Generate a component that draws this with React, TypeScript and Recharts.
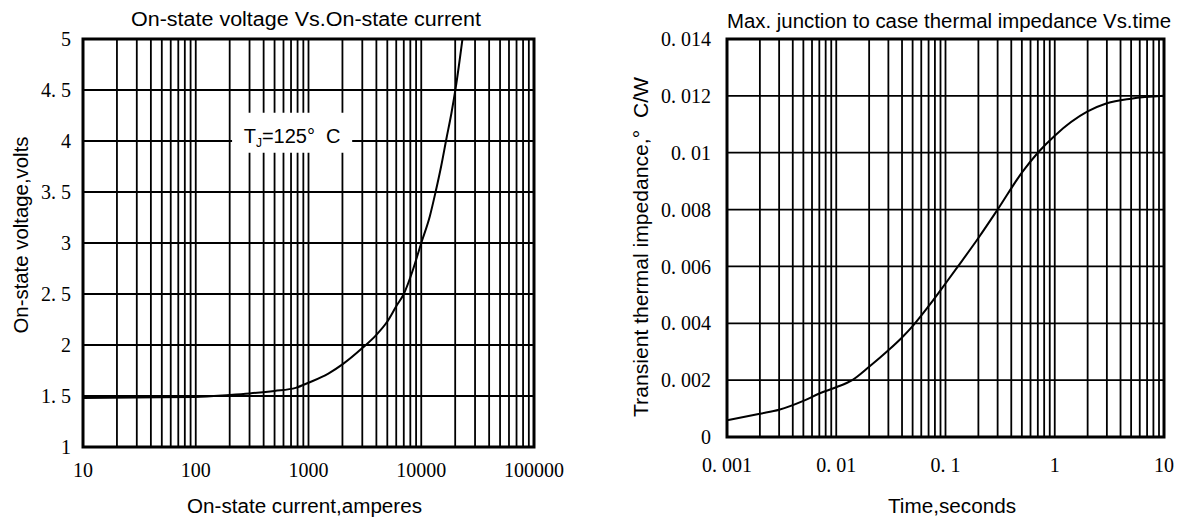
import React from 'react';
import { LineChart, Line, XAxis, YAxis, CartesianGrid, ReferenceArea } from 'recharts';

// ---------- Left chart: On-state voltage vs On-state current ----------
const currentA = [10, 30, 100, 200, 300, 500, 770, 1000, 1500, 2000, 3000, 4000, 5000, 6000, 7000, 8400, 10000, 11900, 13400, 15000, 16700, 18500, 20200, 23200];
const voltageV = [1.48, 1.485, 1.49, 1.51, 1.525, 1.55, 1.58, 1.63, 1.72, 1.81, 1.97, 2.1, 2.23, 2.38, 2.5, 2.73, 3.0, 3.26, 3.5, 3.75, 4.02, 4.27, 4.52, 5.0];

const leftDecades = [10, 100, 1000, 10000, 100000];
const leftDecadeLabels = ['10', '100', '1000', '10000', '100000'];
const leftYTicks = [1, 1.5, 2, 2.5, 3, 3.5, 4, 4.5, 5];
const leftYLabels = ['1', '1. 5', '2', '2. 5', '3', '3. 5', '4', '4. 5', '5'];

// ---------- Right chart: thermal impedance vs time ----------
const timeS = [0.001, 0.002, 0.003, 0.005, 0.007, 0.01, 0.014, 0.02, 0.03, 0.04, 0.05, 0.07, 0.1, 0.13, 0.2, 0.3, 0.5, 0.7, 1, 2, 3, 5, 10];
const impedanceCW = [0.00059, 0.00082, 0.00096, 0.00127, 0.00153, 0.00175, 0.002, 0.00247, 0.00305, 0.0035, 0.0039, 0.0046, 0.0054, 0.006, 0.007, 0.008, 0.0093, 0.01, 0.0106, 0.01145, 0.01174, 0.0119, 0.012];

const rightDecades = [0.001, 0.01, 0.1, 1, 10];
const rightDecadeLabels = ['0. 001', '0. 01', '0. 1', '1', '10'];
const rightYTicks = [0, 0.002, 0.004, 0.006, 0.008, 0.01, 0.012, 0.014];
const rightYLabels = ['0', '0. 002', '0. 004', '0. 006', '0. 008', '0. 01', '0. 012', '0. 014'];

const minorSteps = [1, 2, 3, 4, 5, 6, 7, 8, 9];

const buildLogTicks = (decades: number[]) =>
  decades
    .slice(0, -1)
    .flatMap((d) => minorSteps.map((m) => m * d))
    .concat([decades[decades.length - 1]]);

const labelFor = (values: number[], labels: string[]) => (v: number) => {
  const i = values.findIndex((d) => Math.abs(v - d) <= Math.abs(d) * 1e-6 + 1e-12);
  return i >= 0 ? labels[i] : '';
};

const leftData = currentA.map((x, i) => ({ x, y: voltageV[i] }));
const rightData = timeS.map((x, i) => ({ x, y: impedanceCW[i] }));

const SANS = '"Liberation Sans", Arial, sans-serif';
const SERIF = '"Liberation Serif", "Times New Roman", serif';
const tickStyle = { fontFamily: SERIF, fontSize: 20, fill: '#000' };

const TjLabel = (props: any) => {
  const vb = props.viewBox || {};
  const cx = vb.x + vb.width / 2;
  const by = vb.y + vb.height * 0.76;
  return (
    <text x={cx} y={by} textAnchor="middle" fontFamily={SANS} fontSize={20} fill="#000">
      T
      <tspan fontSize={12} dy={4}>J</tspan>
      <tspan dy={-4}>{'=125°\u00a0\u00a0C'}</tspan>
    </text>
  );
};

export default function App() {
  return (
    <div style={{ position: 'absolute', left: 0, top: 0, width: 1184, height: 520, background: '#fff' }}>
      <div style={{ position: 'absolute', left: 0, top: 0 }}>
        <LineChart width={600} height={520} data={leftData} margin={{ top: 39, right: 66, bottom: 43, left: 0 }}>
          <CartesianGrid stroke="#000" strokeWidth={1.8} />
          <XAxis
            dataKey="x"
            type="number"
            scale="log"
            domain={[10, 100000]}
            ticks={buildLogTicks(leftDecades)}
            interval={0}
            tickFormatter={labelFor(leftDecades, leftDecadeLabels)}
            tickLine={false}
            axisLine={false}
            tickMargin={10}
            height={30}
            tick={tickStyle}
            allowDataOverflow
          />
          <YAxis
            type="number"
            domain={[1, 5]}
            ticks={leftYTicks}
            interval={0}
            tickFormatter={labelFor(leftYTicks, leftYLabels)}
            tickLine={false}
            axisLine={false}
            tickMargin={6}
            width={83}
            tick={tickStyle}
            allowDataOverflow
          />
          <ReferenceArea x1={210} x2={2440} y1={3.886} y2={4.278} fill="#fff" fillOpacity={1} stroke="none" label={(p: any) => <TjLabel {...p} />} />
          <ReferenceArea x1={10} x2={100000} y1={1} y2={5} fill="none" stroke="#000" strokeWidth={3} />
          <Line type="monotone" dataKey="y" stroke="#000" strokeWidth={2} dot={false} isAnimationActive={false} />
        </LineChart>
      </div>
      <div style={{ position: 'absolute', left: 600, top: 0 }}>
        <LineChart width={584} height={520} data={rightData} margin={{ top: 39, right: 20, bottom: 53, left: 0 }}>
          <CartesianGrid stroke="#000" strokeWidth={1.8} />
          <XAxis
            dataKey="x"
            type="number"
            scale="log"
            domain={[0.001, 10]}
            ticks={buildLogTicks(rightDecades)}
            interval={0}
            tickFormatter={labelFor(rightDecades, rightDecadeLabels)}
            tickLine={false}
            axisLine={false}
            tickMargin={15}
            height={30}
            tick={tickStyle}
            allowDataOverflow
          />
          <YAxis
            type="number"
            domain={[0, 0.014]}
            ticks={rightYTicks}
            interval={0}
            tickFormatter={labelFor(rightYTicks, rightYLabels)}
            tickLine={false}
            axisLine={false}
            tickMargin={10}
            width={127}
            tick={tickStyle}
            allowDataOverflow
          />
          <ReferenceArea x1={0.001} x2={10} y1={0} y2={0.014} fill="none" stroke="#000" strokeWidth={3} />
          <Line type="monotone" dataKey="y" stroke="#000" strokeWidth={2} dot={false} isAnimationActive={false} />
        </LineChart>
      </div>
      <svg width={1184} height={520} style={{ position: 'absolute', left: 0, top: 0, pointerEvents: 'none' }}>
        <g fontFamily={SANS} fontSize={20} fill="#000">
          <text x={306} y={26} textAnchor="middle" textLength={350} lengthAdjust="spacingAndGlyphs">On-state voltage Vs.On-state current</text>
          <text x={949} y={28} textAnchor="middle" textLength={444} lengthAdjust="spacingAndGlyphs">Max. junction to case thermal impedance Vs.time</text>
          <text x={304.5} y={513} textAnchor="middle" textLength={235} lengthAdjust="spacingAndGlyphs">On-state current,amperes</text>
          <text x={952} y={513} textAnchor="middle" textLength={128} lengthAdjust="spacingAndGlyphs">Time,seconds</text>
          <text x={28} y={235} textAnchor="middle" transform="rotate(-90 28 235)" textLength={197} lengthAdjust="spacingAndGlyphs">On-state voltage,volts</text>
          <text x={648} y={247} textAnchor="middle" transform="rotate(-90 648 247)" textLength={340} lengthAdjust="spacingAndGlyphs">{'Transient thermal impedance,°\u00a0 C/W'}</text>
        </g>
      </svg>
    </div>
  );
}
